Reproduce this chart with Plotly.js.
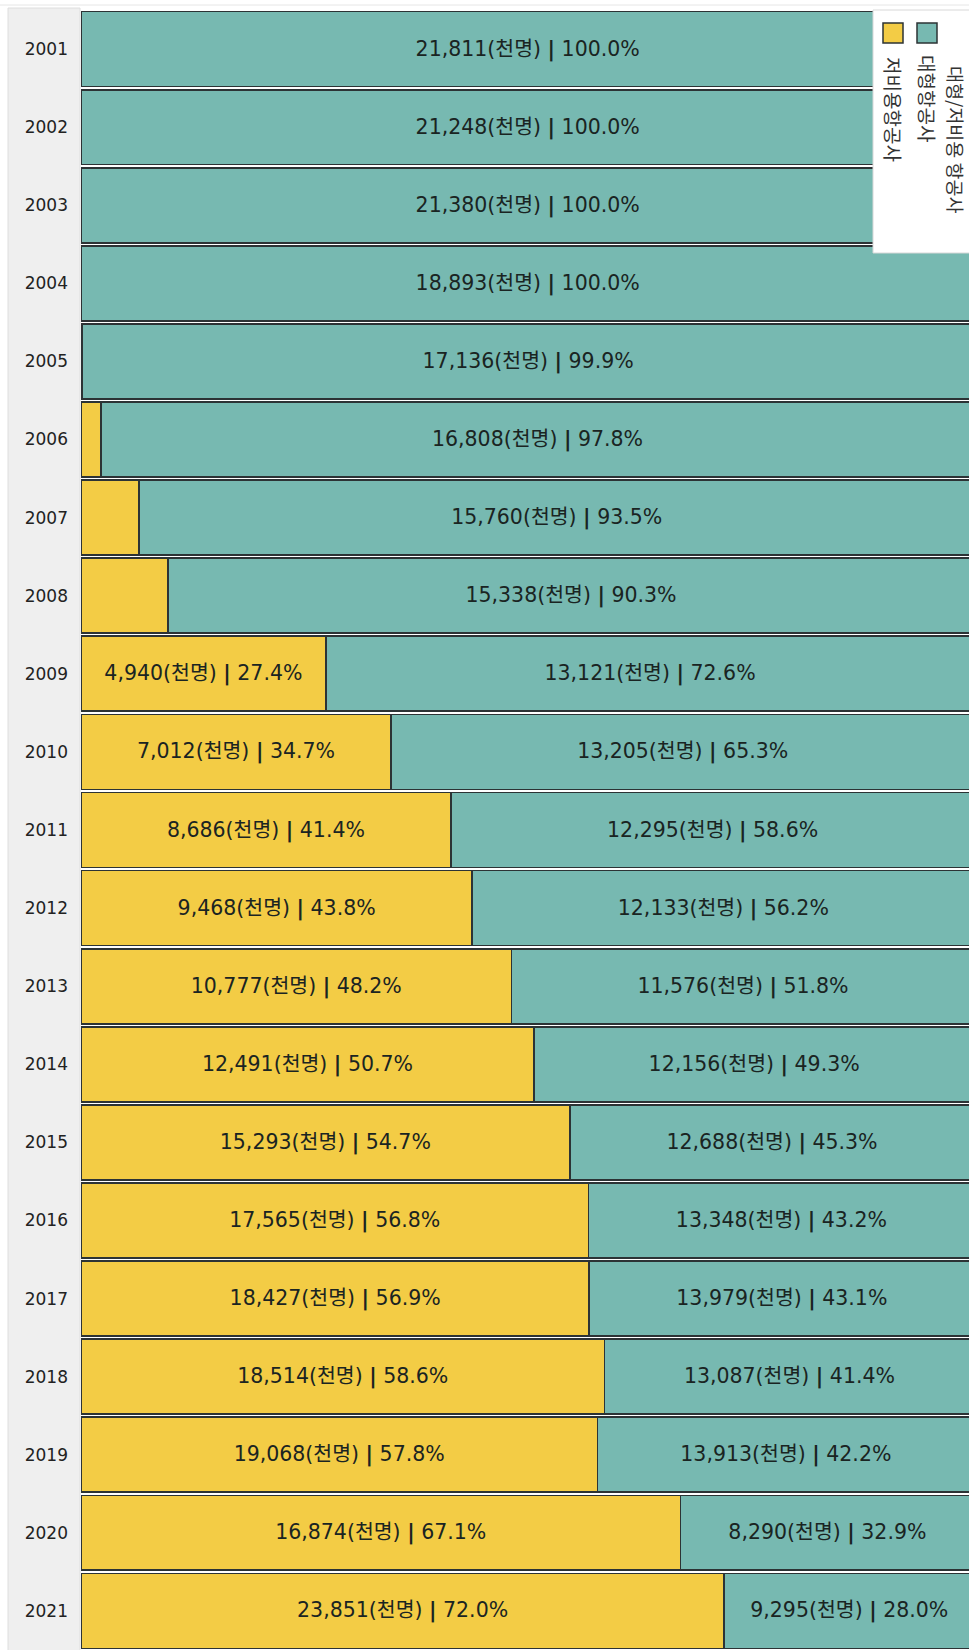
<!DOCTYPE html>
<html>
<head>
<meta charset="utf-8">
<script src="https://cdn.plot.ly/plotly-3.0.1.min.js"></script>
<style>
html,body{margin:0;padding:0;background:#ffffff;}
#chart{width:969px;height:1650px;}
</style>
</head>
<body>
<div id="chart"></div>
<script>
// ---- data ----
const years = ['2001','2002','2003','2004','2005','2006','2007','2008','2009','2010','2011',
               '2012','2013','2014','2015','2016','2017','2018','2019','2020','2021'];
// 저비용항공사 (LCC) passengers, thousand persons (2005-2008 estimated from shares)
const lccPax = [0, 0, 0, 0, 17, 378, 1096, 1648, 4940, 7012, 8686,
                9468, 10777, 12491, 15293, 17565, 18427, 18514, 19068, 16874, 23851];
const lccShare = [0.0, 0.0, 0.0, 0.0, 0.1, 2.2, 6.5, 9.7, 27.4, 34.7, 41.4,
                  43.8, 48.2, 50.7, 54.7, 56.8, 56.9, 58.6, 57.8, 67.1, 72.0];
// 대형항공사 (FSC) passengers, thousand persons
const fscPax = [21811, 21248, 21380, 18893, 17136, 16808, 15760, 15338, 13121, 13205, 12295,
                12133, 11576, 12156, 12688, 13348, 13979, 13087, 13913, 8290, 9295];
const fscShare = [100.0, 100.0, 100.0, 100.0, 99.9, 97.8, 93.5, 90.3, 72.6, 65.3, 58.6,
                  56.2, 51.8, 49.3, 45.3, 43.2, 43.1, 41.4, 42.2, 32.9, 28.0];
const legendTitle = '대형/저비용 항공사';
const seriesNames = ['대형항공사', '저비용항공사'];
const unit = '(천명)';

// ---- styling ----
const W = 969, H = 1650;
const M = {l: 81, r: 0, t: 10, b: 0};
const yellow = '#F3CC45', teal = '#77B9B1', edge = '#2c3335';
const fontFam = '"DejaVu Sans", "Noto Sans CJK KR", sans-serif';
const cjkFam = '"Noto Sans CJK KR", "DejaVu Sans", sans-serif';

const fmt = n => n.toLocaleString('en-US');
const label = (pax, share, min) => share >= min ? fmt(pax) + unit + ' <b>|</b> ' + share.toFixed(1) + '%' : '';

const lccTrace = {
  type: 'bar', orientation: 'h', name: seriesNames[1],
  y: years, x: lccShare,
  text: lccPax.map((p, i) => label(p, lccShare[i], 20)),
  textposition: 'inside', insidetextanchor: 'middle', constraintext: 'none',
  textfont: {family: fontFam, size: 20.5, color: '#1a2422'},
  marker: {color: yellow, line: {color: edge, width: 1.7}},
  hoverinfo: 'none', showlegend: false
};
const fscTrace = {
  type: 'bar', orientation: 'h', name: seriesNames[0],
  y: years, x: fscShare,
  text: fscPax.map((p, i) => label(p, fscShare[i], 20)),
  textposition: 'inside', insidetextanchor: 'middle', constraintext: 'none',
  textfont: {family: fontFam, size: 20.5, color: '#1a2422'},
  marker: {color: teal, line: {color: edge, width: 1.7}},
  hoverinfo: 'none', showlegend: false
};

const pw = W - M.l - M.r, ph = H - M.t - M.b;
const px = x => (x - M.l) / pw;
const py = y => 1 - (y - M.t) / ph;

const shapes = [
  // grey panel behind the year labels
  {type: 'rect', xref: 'paper', yref: 'paper', x0: px(8), x1: px(80), y0: py(H + 5), y1: py(8),
   fillcolor: '#efefef', line: {color: '#dedede', width: 1}, layer: 'below'},
  // thin top rule
  {type: 'line', xref: 'paper', yref: 'paper', x0: px(0), x1: px(969), y0: py(5), y1: py(5),
   line: {color: '#e6e6e6', width: 1}, layer: 'below'},
  // legend box
  {type: 'rect', xref: 'paper', yref: 'paper', x0: px(873), x1: px(972), y0: py(253), y1: py(10),
   fillcolor: '#ffffff', line: {color: '#d8d8d8', width: 1}, layer: 'above'},
  // swatches
  {type: 'rect', xref: 'paper', yref: 'paper', x0: px(917), x1: px(937), y0: py(43), y1: py(23),
   fillcolor: teal, line: {color: edge, width: 1.5}, layer: 'above'},
  {type: 'rect', xref: 'paper', yref: 'paper', x0: px(883), x1: px(903), y0: py(43), y1: py(23),
   fillcolor: yellow, line: {color: edge, width: 1.5}, layer: 'above'}
];

const annotations = [
  {xref: 'paper', yref: 'paper', x: px(956), y: py(140), text: legendTitle, textangle: 90,
   showarrow: false, xanchor: 'center', yanchor: 'middle',
   font: {family: cjkFam, size: 18.5, color: '#333'}},
  {xref: 'paper', yref: 'paper', x: px(928), y: py(98), text: seriesNames[0], textangle: 90,
   showarrow: false, xanchor: 'center', yanchor: 'middle',
   font: {family: cjkFam, size: 19, color: '#333'}},
  {xref: 'paper', yref: 'paper', x: px(893), y: py(109), text: seriesNames[1], textangle: 90,
   showarrow: false, xanchor: 'center', yanchor: 'middle',
   font: {family: cjkFam, size: 19, color: '#333'}}
];

const layout = {
  width: W, height: H,
  margin: M,
  paper_bgcolor: '#ffffff', plot_bgcolor: '#ffffff',
  barmode: 'stack', bargap: 0.04,
  showlegend: false,
  xaxis: {range: [0, 99.4], showgrid: false, zeroline: false, showticklabels: false, fixedrange: true},
  yaxis: {type: 'category', autorange: 'reversed', showgrid: false, zeroline: false,
          ticks: '', ticklabelstandoff: 12,
          tickfont: {family: fontFam, size: 17, color: '#222'}},
  uniformtext: {mode: false},
  shapes: shapes,
  annotations: annotations
};

Plotly.newPlot('chart', [lccTrace, fscTrace], layout, {displayModeBar: false, staticPlot: true});
</script>
</body>
</html>
